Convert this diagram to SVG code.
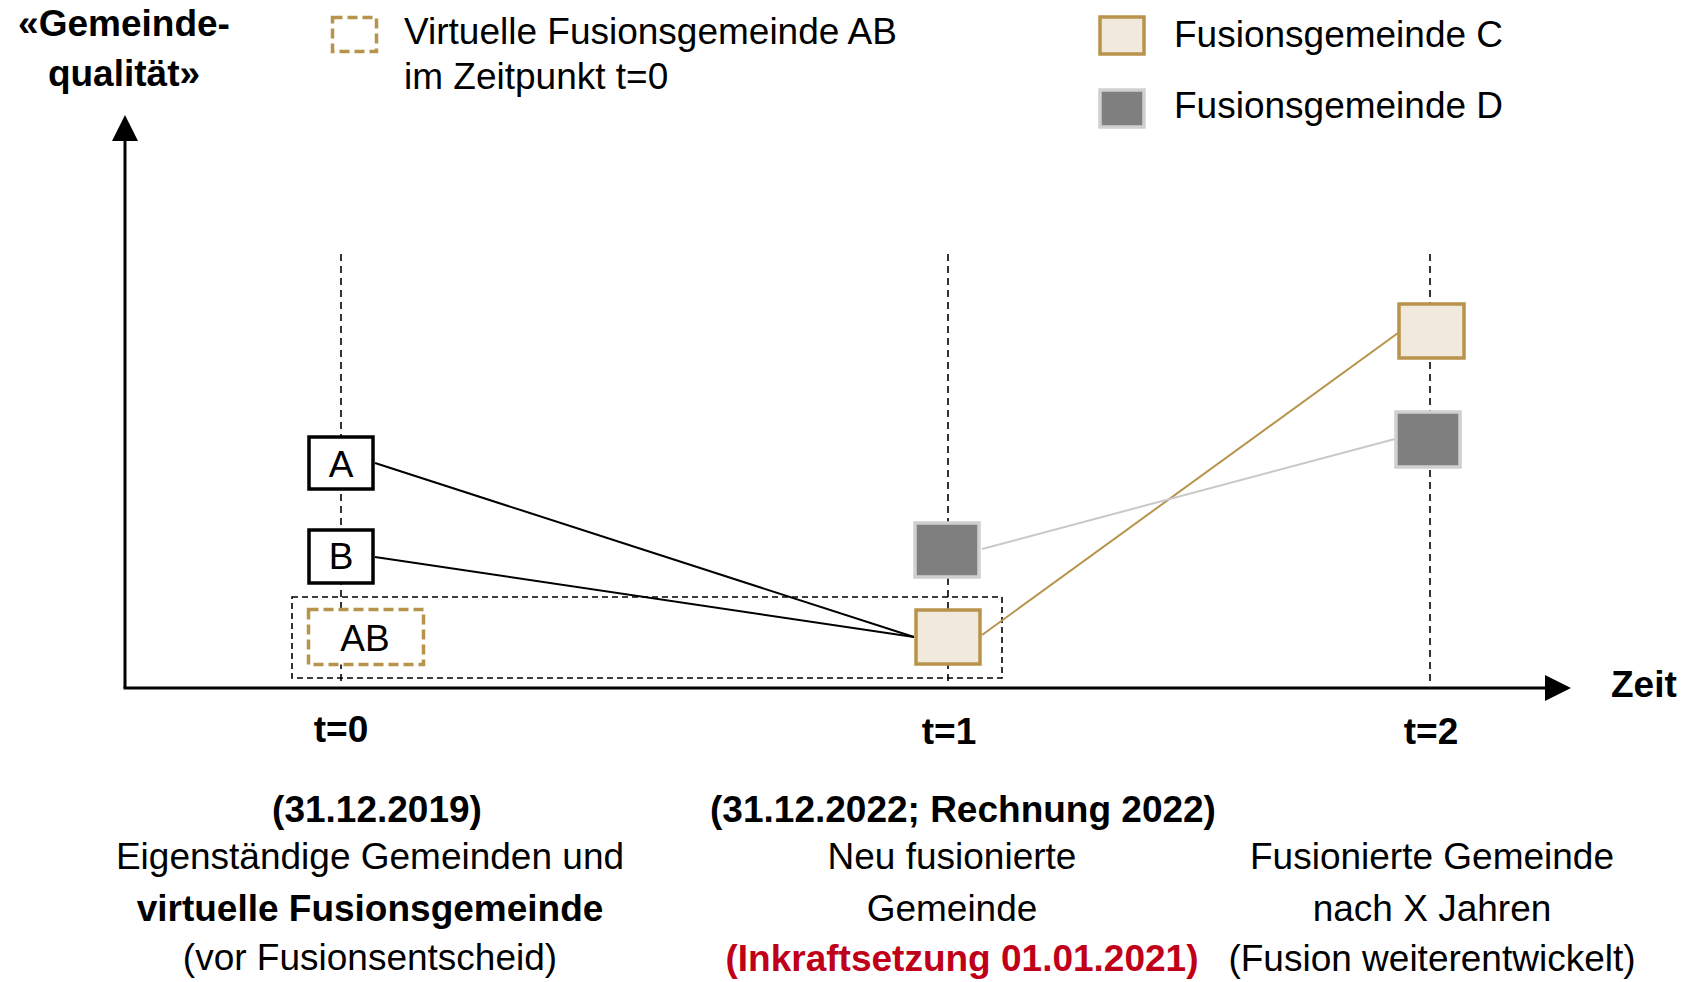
<svg xmlns="http://www.w3.org/2000/svg" width="1686" height="982" viewBox="0 0 1686 982">
<style>
text{font-family:"Liberation Sans",Arial,sans-serif;font-size:37px;fill:#000}
.b{font-weight:bold}
.m{text-anchor:middle}
.red{fill:#c00018}
.vline{stroke:#000;stroke-width:1.6;stroke-dasharray:7 5;fill:none}
.box{fill:#fff;stroke:#000;stroke-width:3.5}
.virt{fill:#fff;stroke:#b8934b;stroke-width:3.5;stroke-dasharray:10 5}
.cbox{fill:#f0e9dc;stroke:#b8934b;stroke-width:3.5}
.dbox{fill:#7f7f7f;stroke:#d0d0d0;stroke-width:3.5}
.axis{stroke:#000;stroke-width:3;fill:none}
</style>
<rect width="1686" height="982" fill="#fff"/>

<g id="axes">
<line class="axis" x1="125" y1="688" x2="125" y2="138"/>
<polygon points="125,115 112,141 138,141" fill="#000"/>
<line class="axis" x1="123.5" y1="688" x2="1548" y2="688"/>
<polygon points="1571,688 1545,675 1545,701" fill="#000"/>
<text class="b m" x="124" y="36">«Gemeinde-</text>
<text class="b m" x="124" y="86">qualität»</text>
<text class="b" x="1611" y="697">Zeit</text>
</g>

<g id="timelines">
<line class="vline" x1="341" y1="254" x2="341" y2="686"/>
<line class="vline" x1="948" y1="254" x2="948" y2="686"/>
<line class="vline" x1="1430" y1="254" x2="1430" y2="686"/>
</g>

<rect id="container" x="292" y="597" width="710" height="81" fill="none" stroke="#000" stroke-width="1.6" stroke-dasharray="6 4"/>

<g id="connectors" fill="none">
<line x1="375" y1="463" x2="914" y2="637" stroke="#000" stroke-width="2"/>
<line x1="375" y1="557" x2="914" y2="637" stroke="#000" stroke-width="2"/>
<line x1="982" y1="635" x2="1398" y2="333" stroke="#b8934b" stroke-width="2"/>
<line x1="982" y1="549" x2="1395" y2="439" stroke="#c8c8c8" stroke-width="2"/>
</g>

<g id="node-A">
<rect class="box" x="309" y="437" width="64" height="52"/>
<text class="m" x="341" y="477">A</text>
</g>
<g id="node-B">
<rect class="box" x="309" y="530" width="64" height="53"/>
<text class="m" x="341" y="569">B</text>
</g>
<g id="node-AB">
<rect class="virt" x="308.5" y="609.5" width="115" height="55"/>
<text class="m" x="365" y="651">AB</text>
</g>
<g id="node-D1"><rect class="dbox" x="915" y="523" width="64" height="54"/></g>
<g id="node-C1"><rect class="cbox" x="916" y="610" width="64" height="54"/></g>
<g id="node-C2"><rect class="cbox" x="1399" y="304" width="65" height="54"/></g>
<g id="node-D2"><rect class="dbox" x="1396" y="412" width="64" height="55"/></g>

<g id="legend">
<rect class="virt" x="332.5" y="17.5" width="44" height="34" fill="none"/>
<text x="404" y="44">Virtuelle Fusionsgemeinde AB</text>
<text x="404" y="89">im Zeitpunkt t=0</text>
<rect class="cbox" x="1100" y="17" width="44" height="37"/>
<text x="1174" y="47">Fusionsgemeinde C</text>
<rect class="dbox" x="1100" y="90" width="44" height="37"/>
<text x="1174" y="118">Fusionsgemeinde D</text>
</g>

<g id="labels-t0">
<text class="b m" x="341" y="742">t=0</text>
<text class="b m" x="377" y="822">(31.12.2019)</text>
<text class="m" x="370" y="869">Eigenständige Gemeinden und</text>
<text class="b m" x="370" y="921">virtuelle Fusionsgemeinde</text>
<text class="m" x="370" y="970">(vor Fusionsentscheid)</text>
</g>
<g id="labels-t1">
<text class="b m" x="949" y="744">t=1</text>
<text class="b m" x="963" y="822">(31.12.2022; Rechnung 2022)</text>
<text class="m" x="952" y="869">Neu fusionierte</text>
<text class="m" x="952" y="921">Gemeinde</text>
<text class="b m red" x="962" y="971">(Inkraftsetzung 01.01.2021)</text>
</g>
<g id="labels-t2">
<text class="b m" x="1431" y="744">t=2</text>
<text class="m" x="1432" y="869">Fusionierte Gemeinde</text>
<text class="m" x="1432" y="921">nach X Jahren</text>
<text class="m" x="1432" y="971">(Fusion weiterentwickelt)</text>
</g>
</svg>
